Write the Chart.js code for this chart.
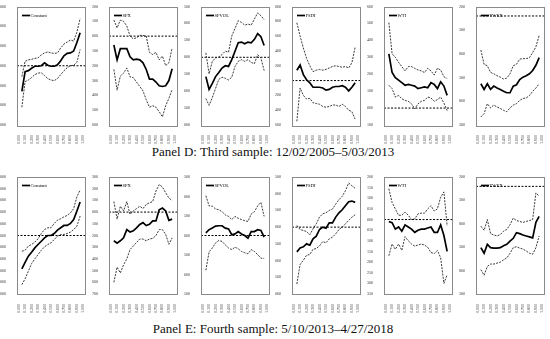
<!DOCTYPE html>
<html>
<head>
<meta charset="utf-8">
<script src="https://cdn.jsdelivr.net/npm/chart.js@4.4.1/dist/chart.umd.min.js"></script>
<style>
body{ margin:0; background:#fff; width:550px; height:339px; position:relative; overflow:hidden; }
canvas{ position:absolute; }
.ptitle{ position:absolute; left:0; width:546px; text-align:center; font-family:"Liberation Serif",serif; font-size:13px; color:#111; }
</style>
</head>
<body>

<div class="ptitle" style="top:144px">Panel D: Third sample: 12/02/2005–5/03/2013</div>
<div class="ptitle" style="top:321px">Panel E: Fourth sample: 5/10/2013–4/27/2018</div>

<script>
// ======================================================
// DATA
// ======================================================

const quantiles = [0.05,0.10,0.15,0.20,0.25,0.30,0.35,0.40,0.45,0.50,0.55,0.60,0.65,0.70,0.75,0.80,0.85,0.90,0.95];
const xTicks = [0.0,0.1,0.2,0.3,0.4,0.5,0.6,0.7,0.8,0.9,1.0];
const zeroLine = [0,0];

// Panel D : third sample
const d_const   = [-2.6,-0.6,-0.5,-0.25,-0.05,-0.05,0.0,0.3,0.05,-0.05,-0.05,0.1,0.5,1.0,1.25,1.3,1.5,2.35,3.35];
const d_constHi = [-1.1,0.45,0.6,0.65,0.75,0.8,1.1,1.3,1.4,1.3,1.25,1.3,1.8,2.2,2.4,2.6,2.5,3.4,4.8];
const d_constLo = [-4.2,-1.6,-1.45,-1.2,-0.9,-0.75,-0.7,-1.0,-1.3,-1.45,-1.5,-1.3,-0.9,-0.5,-0.2,0.0,0.05,0.35,1.65];

const d_spx   = [-0.06,-0.16,-0.085,-0.085,-0.085,-0.14,-0.16,-0.155,-0.16,-0.18,-0.225,-0.29,-0.29,-0.31,-0.335,-0.34,-0.335,-0.30,-0.22];
const d_spxHi = [0.108,0.056,0.108,0.10,0.068,0.0,-0.018,-0.011,0.005,0.005,0.0,-0.11,-0.124,-0.11,-0.16,-0.135,-0.2,-0.18,-0.08];
const d_spxLo = [-0.225,-0.365,-0.27,-0.25,-0.215,-0.275,-0.28,-0.31,-0.34,-0.37,-0.43,-0.48,-0.47,-0.48,-0.51,-0.545,-0.47,-0.42,-0.36];

const d_spvol   = [-0.57,-0.95,-0.77,-0.57,-0.45,-0.32,-0.25,-0.27,-0.07,0.18,0.43,0.45,0.4,0.45,0.43,0.53,0.7,0.61,0.35];
const d_spvolHi = [0.13,-0.49,-0.12,-0.02,0.01,0.08,0.18,0.15,0.63,0.85,1.08,1.03,0.95,0.98,0.95,1.13,1.31,1.23,1.11];
const d_spvolLo = [-1.22,-1.42,-1.19,-0.92,-0.65,-0.59,-0.62,-0.67,-0.59,-0.27,-0.12,-0.07,-0.12,-0.07,-0.15,-0.19,0.08,-0.02,-0.39];

const d_fsdi   = [0.14,0.21,0.08,0.01,-0.03,-0.09,-0.09,-0.09,-0.1,-0.13,-0.12,-0.09,-0.08,-0.08,-0.07,-0.09,-0.14,-0.09,-0.03];
const d_fsdiHi = [0.78,0.6,0.44,0.3,0.2,0.12,0.14,0.15,0.14,0.15,0.17,0.19,0.2,0.19,0.18,0.19,0.17,0.24,0.45];
const d_fsdiLo = [-0.55,-0.1,-0.2,-0.25,-0.24,-0.3,-0.31,-0.32,-0.35,-0.36,-0.35,-0.33,-0.33,-0.35,-0.32,-0.35,-0.4,-0.42,-0.52];

const d_wti   = [0.32,0.21,0.18,0.165,0.15,0.135,0.14,0.135,0.13,0.115,0.12,0.125,0.12,0.15,0.14,0.115,0.155,0.13,0.075];
const d_wtiHi = [0.505,0.32,0.3,0.27,0.245,0.22,0.245,0.245,0.235,0.225,0.22,0.21,0.235,0.22,0.195,0.235,0.225,0.185,0.175];
const d_wtiLo = [0.135,0.115,0.065,0.075,0.055,0.045,0.04,0.025,-0.005,0.025,0.04,0.045,0.065,0.06,0.04,0.05,0.065,0.03,-0.015];

const d_twex   = [-1.43,-1.55,-1.43,-1.55,-1.48,-1.52,-1.55,-1.59,-1.62,-1.62,-1.48,-1.45,-1.34,-1.29,-1.26,-1.22,-1.15,-1.04,-0.88];
const d_twexHi = [-0.72,-1.02,-1.05,-1.19,-1.22,-1.26,-1.29,-1.33,-1.31,-1.22,-1.05,-1.02,-0.91,-0.9,-0.9,-0.88,-0.77,-0.65,-0.41];
const d_twexLo = [-2.13,-2.06,-1.85,-1.94,-1.88,-1.92,-1.95,-1.99,-2.02,-1.94,-1.88,-1.85,-1.78,-1.74,-1.73,-1.68,-1.59,-1.52,-1.43];

// Panel E : fourth sample
const e_const   = [-2.85,-2.3,-1.77,-1.43,-1.06,-0.77,-0.49,-0.2,0.0,0.0,0.17,0.46,0.66,0.86,0.86,1.03,1.37,2.09,2.86];
const e_constHi = [-1.34,-1.26,-0.91,-0.77,-0.57,-0.29,0.17,0.51,0.66,0.66,1.03,1.31,1.43,1.6,1.71,1.94,2.29,3.31,3.89];
const e_constLo = [-4.2,-3.7,-3.06,-2.4,-2.0,-1.63,-1.26,-0.97,-0.77,-0.63,-0.34,-0.06,0.09,0.09,0.17,0.29,0.51,0.8,1.66];

const e_spx   = [-0.245,-0.265,-0.245,-0.22,-0.15,-0.17,-0.16,-0.135,-0.105,-0.09,-0.115,-0.105,-0.075,-0.075,0.02,0.035,0.01,-0.07,-0.06];
const e_spxHi = [0.09,-0.06,0.05,0.01,0.09,-0.02,0.01,0.03,0.05,0.03,0.065,0.08,0.09,0.18,0.235,0.215,0.165,0.12,0.1];
const e_spxLo = [-0.6,-0.47,-0.52,-0.45,-0.4,-0.32,-0.29,-0.26,-0.23,-0.23,-0.245,-0.23,-0.225,-0.2,-0.15,-0.15,-0.19,-0.275,-0.22];

const e_spvol   = [0.07,0.15,0.19,0.24,0.25,0.25,0.19,0.17,0.02,0.04,0.1,0.04,0.0,-0.07,0.1,0.1,0.15,0.13,-0.04];
const e_spvolHi = [1.02,0.76,0.75,0.68,0.66,0.61,0.53,0.49,0.41,0.49,0.44,0.41,0.38,0.36,0.55,0.61,0.76,0.85,0.49];
const e_spvolLo = [-0.89,-0.42,-0.32,-0.19,-0.13,-0.15,-0.24,-0.32,-0.36,-0.3,-0.34,-0.41,-0.44,-0.47,-0.36,-0.41,-0.49,-0.58,-0.59];

const e_fsdi   = [-0.74,-0.62,-0.59,-0.5,-0.54,-0.35,-0.27,-0.07,0.0,-0.03,0.13,0.13,0.3,0.43,0.52,0.64,0.76,0.78,0.74];
const e_fsdiHi = [0.05,-0.07,-0.1,-0.13,-0.23,-0.05,0.1,0.3,0.4,0.43,0.5,0.54,0.69,0.82,0.92,1.09,1.32,1.24,1.16];
const e_fsdiLo = [-1.7,-1.12,-0.99,-0.84,-0.82,-0.66,-0.64,-0.56,-0.43,-0.47,-0.35,-0.3,-0.2,-0.07,0.0,0.1,0.2,0.3,0.37];

const e_wti   = [-0.01,-0.015,-0.045,-0.035,-0.055,-0.025,-0.035,-0.045,-0.06,-0.05,-0.045,-0.045,-0.04,-0.035,-0.06,-0.06,-0.025,-0.075,-0.15];
const e_wtiHi = [0.145,0.08,0.05,0.02,0.02,0.035,0.02,0.0,0.003,0.027,0.03,0.03,0.05,0.065,0.04,0.05,0.105,0.13,-0.03];
const e_wtiLo = [-0.17,-0.115,-0.14,-0.115,-0.145,-0.08,-0.1,-0.115,-0.125,-0.12,-0.115,-0.12,-0.13,-0.155,-0.16,-0.145,-0.18,-0.3,-0.26];

const e_twex   = [-1.31,-1.43,-1.24,-1.31,-1.32,-1.32,-1.31,-1.27,-1.24,-1.17,-1.11,-0.99,-1.01,-1.04,-1.06,-1.08,-1.1,-0.77,-0.64];
const e_twexHi = [-0.85,-0.94,-0.71,-1.01,-1.04,-1.06,-1.03,-0.96,-0.92,-0.82,-0.68,-0.73,-0.75,-0.77,-0.75,-0.73,-0.71,-0.14,-0.21];
const e_twexLo = [-1.78,-1.9,-1.71,-1.66,-1.66,-1.64,-1.62,-1.57,-1.53,-1.43,-1.31,-1.29,-1.32,-1.34,-1.38,-1.43,-1.45,-1.31,-1.06];

// y tick labels
const yt_dConst = [6,4,2,0,-2,-4,-6];
const yt_dSpx   = [0.2,0.1,0,-0.1,-0.2,-0.3,-0.4,-0.5,-0.6];
const yt_dSpvol = [1.5,1.0,0.5,0,-0.5,-1.0,-1.5,-2.0];
const yt_dFsdi  = [1.0,0.8,0.6,0.4,0.2,0,-0.2,-0.4,-0.6];
const yt_dWti   = [0.6,0.5,0.4,0.3,0.2,0.1,0,-0.1];
const yt_dTwex  = [0.2,-0.3,-0.8,-1.3,-1.8,-2.3];

const yt_eConst = [5,4,3,2,1,0,-1,-2,-3,-4,-5];
const yt_eSpx   = [0.3,0.2,0.1,0,-0.1,-0.2,-0.3,-0.4,-0.5,-0.6,-0.7];
const yt_eSpvol = [1.5,1.0,0.5,0,-0.5,-1.0,-1.5];
const yt_eFsdi  = [1.5,1.0,0.5,0,-0.5,-1.0,-1.5,-2.0];
const yt_eWti   = [0.2,0.15,0.1,0.05,0,-0.05,-0.1,-0.15,-0.2,-0.25,-0.3,-0.35];
const yt_eTwex  = [0.2,-0.3,-0.8,-1.3,-1.8,-2.3];

// ======================================================
// PANEL LIST
// ======================================================

const rowD = [
    ["Constant", d_const, d_constHi, d_constLo, yt_dConst],
    ["SPX",      d_spx,   d_spxHi,   d_spxLo,   yt_dSpx],
    ["SPVOL",    d_spvol, d_spvolHi, d_spvolLo, yt_dSpvol],
    ["FSDI",     d_fsdi,  d_fsdiHi,  d_fsdiLo,  yt_dFsdi],
    ["WTI",      d_wti,   d_wtiHi,   d_wtiLo,   yt_dWti],
    ["TWEX",     d_twex,  d_twexHi,  d_twexLo,  yt_dTwex]
];

const rowE = [
    ["Constant", e_const, e_constHi, e_constLo, yt_eConst],
    ["SPX",      e_spx,   e_spxHi,   e_spxLo,   yt_eSpx],
    ["SPVOL",    e_spvol, e_spvolHi, e_spvolLo, yt_eSpvol],
    ["FSDI",     e_fsdi,  e_fsdiHi,  e_fsdiLo,  yt_eFsdi],
    ["WTI",      e_wti,   e_wtiHi,   e_wtiLo,   yt_eWti],
    ["TWEX",     e_twex,  e_twexHi,  e_twexLo,  yt_eTwex]
];

const SERIF = "'Liberation Serif', 'Times New Roman', serif";
Chart.defaults.font.family = SERIF;

// ======================================================
// FRAME AROUND PLOT AREA + SMALL LEGEND INSIDE IT
// ======================================================

const frame = {
    id:"frame",
    afterDatasetsDraw(chart){
        const a = chart.chartArea;
        const ctx = chart.ctx;
        ctx.save();
        ctx.strokeStyle = "#8a8a8a";
        ctx.lineWidth = 1;
        ctx.strokeRect(Math.round(a.left)+0.5, Math.round(a.top)+0.5,
                       Math.round(a.right-a.left), Math.round(a.bottom-a.top));

        // legend: solid series only
        const ds = chart.data.datasets[0];
        const y = Math.round(a.top + 8) + 0.5;
        const x = a.left + 5;
        ctx.strokeStyle = ds.borderColor;
        ctx.lineWidth = ds.borderWidth;
        ctx.beginPath();
        ctx.moveTo(x, y);
        ctx.lineTo(x + 8, y);
        ctx.stroke();
        ctx.fillStyle = "#000";
        ctx.font = "4.6px " + SERIF;
        ctx.textBaseline = "middle";
        ctx.fillText(ds.label, x + 8.5, y);
        ctx.restore();
    }
};

// ======================================================
// ONE PANEL
// ======================================================

function drawPanel(col, p, top, padTop, xHeight){

    const [label, mid, hi, lo, yTicks] = p;

    const canvas = document.createElement("canvas");
    canvas.width = 92;
    canvas.height = 145;
    canvas.style.left = Math.round(col*91.8) + "px";
    canvas.style.top = top + "px";
    document.body.appendChild(canvas);

    const lo_x = -0.025, hi_x = 1.025;
    const yMin = Math.min(...yTicks), yMax = Math.max(...yTicks);

    const band = data => ({
        data:data,
        borderColor:"#222",
        borderWidth:0.9,
        borderDash:[2,1.2],
        pointRadius:0,
        fill:false,
        tension:0
    });

    new Chart(canvas,{
        type:"line",
        plugins:[frame],
        data:{
            labels:quantiles,
            datasets:[
                {
                    label:label,
                    data:mid,
                    borderColor:"#000",
                    backgroundColor:"#000",
                    borderWidth:1.7,
                    pointRadius:0,
                    tension:0
                },
                band(hi),
                band(lo),
                {
                    data:[{x:lo_x,y:zeroLine[0]},{x:hi_x,y:zeroLine[1]}],
                    borderColor:"#000",
                    borderWidth:1,
                    borderDash:[2,1.5],
                    pointRadius:0
                }
            ]
        },
        options:{
            responsive:false,
            animation:false,
            devicePixelRatio:1,
            layout:{ padding:{ top:padTop, right:7, bottom:0, left:0 } },
            plugins:{
                legend:{ display:false },
                tooltip:{ enabled:false }
            },
            scales:{
                x:{
                    type:"linear",
                    min:lo_x,
                    max:hi_x,
                    afterBuildTicks:axis=>{ axis.ticks = xTicks.map(v=>({value:v})); },
                    afterFit:axis=>{ axis.height = xHeight; },
                    grid:{ display:false },
                    border:{ display:false },
                    ticks:{
                        autoSkip:false,
                        minRotation:90,
                        maxRotation:90,
                        padding:2,
                        color:"#333",
                        font:{ size:4, family:SERIF },
                        callback:v=>Number(v).toFixed(3)
                    }
                },
                y:{
                    min:yMin,
                    max:yMax,
                    afterBuildTicks:axis=>{ axis.ticks = yTicks.map(v=>({value:v})); },
                    afterFit:axis=>{ axis.width = 17; },
                    grid:{ display:false },
                    border:{ display:false },
                    ticks:{
                        padding:3,
                        color:"#333",
                        font:{ size:4, family:SERIF },
                        callback:v=>Number(v).toFixed(3)
                    }
                }
            }
        }
    });

}

rowD.forEach((p,i)=>drawPanel(i, p, 0, 6.5, 20));
rowE.forEach((p,i)=>drawPanel(i, p, 170, 7, 21));

</script>
</body>
</html>
